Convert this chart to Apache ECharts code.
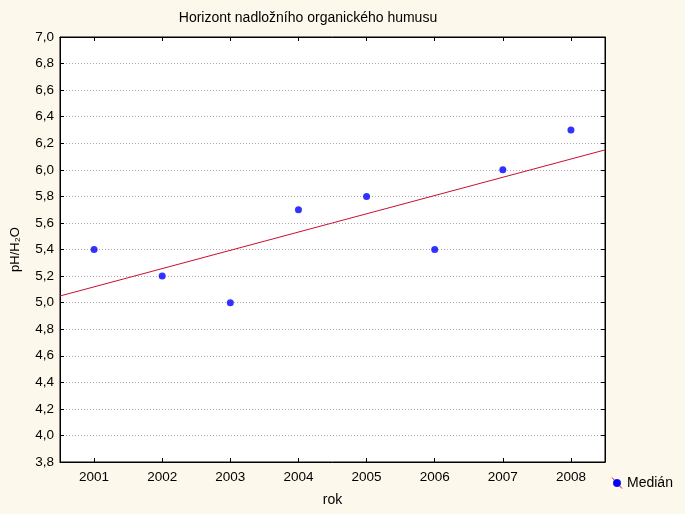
<!DOCTYPE html>
<html><head><meta charset="utf-8">
<script src="https://cdn.jsdelivr.net/npm/echarts@6/dist/echarts.min.js"></script>
<style>html,body{margin:0;padding:0;background:#FDF8EC;}#c{width:685px;height:514px;}</style>
</head><body><div id="c"></div>
<script>
const years = [2001, 2002, 2003, 2004, 2005, 2006, 2007, 2008];
const median = [5.4, 5.2, 5.0, 5.7, 5.8, 5.4, 6.0, 6.3];
const fitX = [2000.5, 2008.5];
const fitY = [5.05, 6.15];

const chart = echarts.init(document.getElementById('c'), null, {renderer: 'canvas'});
const font = 'Liberation Sans, Arial, sans-serif';
const axisLineStyle = {color: '#000', width: 1};
chart.setOption({
  backgroundColor: '#FDF8EC',
  animation: false,
  textStyle: {fontFamily: font},
  title: {
    text: 'Horizont nadložního organického humusu',
    left: 308, top: 11, textAlign: 'center', padding: 0,
    textStyle: {fontSize: 14, fontWeight: 'normal', color: '#000', fontFamily: font}
  },
  grid: {left: 60, right: 80, top: 37, bottom: 52, backgroundColor: '#fff', show: true, borderColor: '#000', borderWidth: 1},
  legend: {
    data: ['Medián'], left: 613, top: 476, padding: 0, icon: 'circle', itemWidth: 8, itemHeight: 8, itemGap: 6,
    textStyle: {fontSize: 14, color: '#000', fontFamily: font, padding: [0, 0, 0, 1]}
  },
  graphic: [{
    type: 'line', silent: true, z: 100,
    shape: {x1: 612, y1: 477.5, x2: 622, y2: 488.5},
    style: {stroke: '#C8102E', lineWidth: 1}
  }, {
    type: 'circle', silent: true, z: 101,
    shape: {cx: 617, cy: 483, r: 3.5},
    style: {fill: '#0000FF'}
  }],
  xAxis: [{
    type: 'value', min: 2000.5, max: 2008.5, position: 'bottom',
    name: 'rok', nameLocation: 'middle', nameGap: 31,
    nameTextStyle: {fontSize: 14, color: '#000'},
    axisLine: {lineStyle: axisLineStyle},
    axisTick: {show: true, inside: true, length: 4, customValues: years, lineStyle: {color: '#000'}},
    axisLabel: {customValues: years, color: '#000', fontSize: 13.5, margin: 8, formatter: v => String(v)},
    splitLine: {show: false}
  }, {
    type: 'value', min: 2000.5, max: 2008.5, position: 'top',
    axisLine: {lineStyle: axisLineStyle},
    axisTick: {show: true, inside: true, length: 4, customValues: years, lineStyle: {color: '#000'}},
    axisLabel: {show: false},
    splitLine: {show: false}
  }],
  yAxis: [{
    type: 'value', min: 3.8, max: 7.0, interval: 0.2, position: 'left',
    name: 'pH/H₂O', nameLocation: 'middle', nameGap: 38, nameRotate: 90,
    nameTextStyle: {fontSize: 13, color: '#000'},
    axisLine: {show: true, lineStyle: axisLineStyle},
    axisTick: {show: true, inside: true, length: 4, lineStyle: {color: '#000'}},
    axisLabel: {color: '#000', fontSize: 13.5, margin: 6, formatter: v => v.toFixed(1).replace('.', ',')},
    splitLine: {show: true, lineStyle: {color: '#aaa', type: [1, 2], width: 1}}
  }, {
    type: 'value', min: 3.8, max: 7.0, interval: 0.2, position: 'right',
    axisLine: {show: true, lineStyle: axisLineStyle},
    axisTick: {show: true, inside: true, length: 4, lineStyle: {color: '#000'}},
    axisLabel: {show: false},
    splitLine: {show: false}
  }],
  series: [{
    name: 'fit', type: 'line', xAxisIndex: 0, yAxisIndex: 0,
    data: fitX.map((x, i) => [x, fitY[i]]),
    symbol: 'none', lineStyle: {color: '#C8102E', width: 1}, silent: true, z: 2
  }, {
    name: 'Medián', type: 'scatter', xAxisIndex: 0, yAxisIndex: 0,
    data: years.map((y, i) => [y, median[i]]),
    symbol: 'circle', symbolSize: 7, itemStyle: {color: '#0000FF'}, z: 3
  }]
});
</script></body></html>
